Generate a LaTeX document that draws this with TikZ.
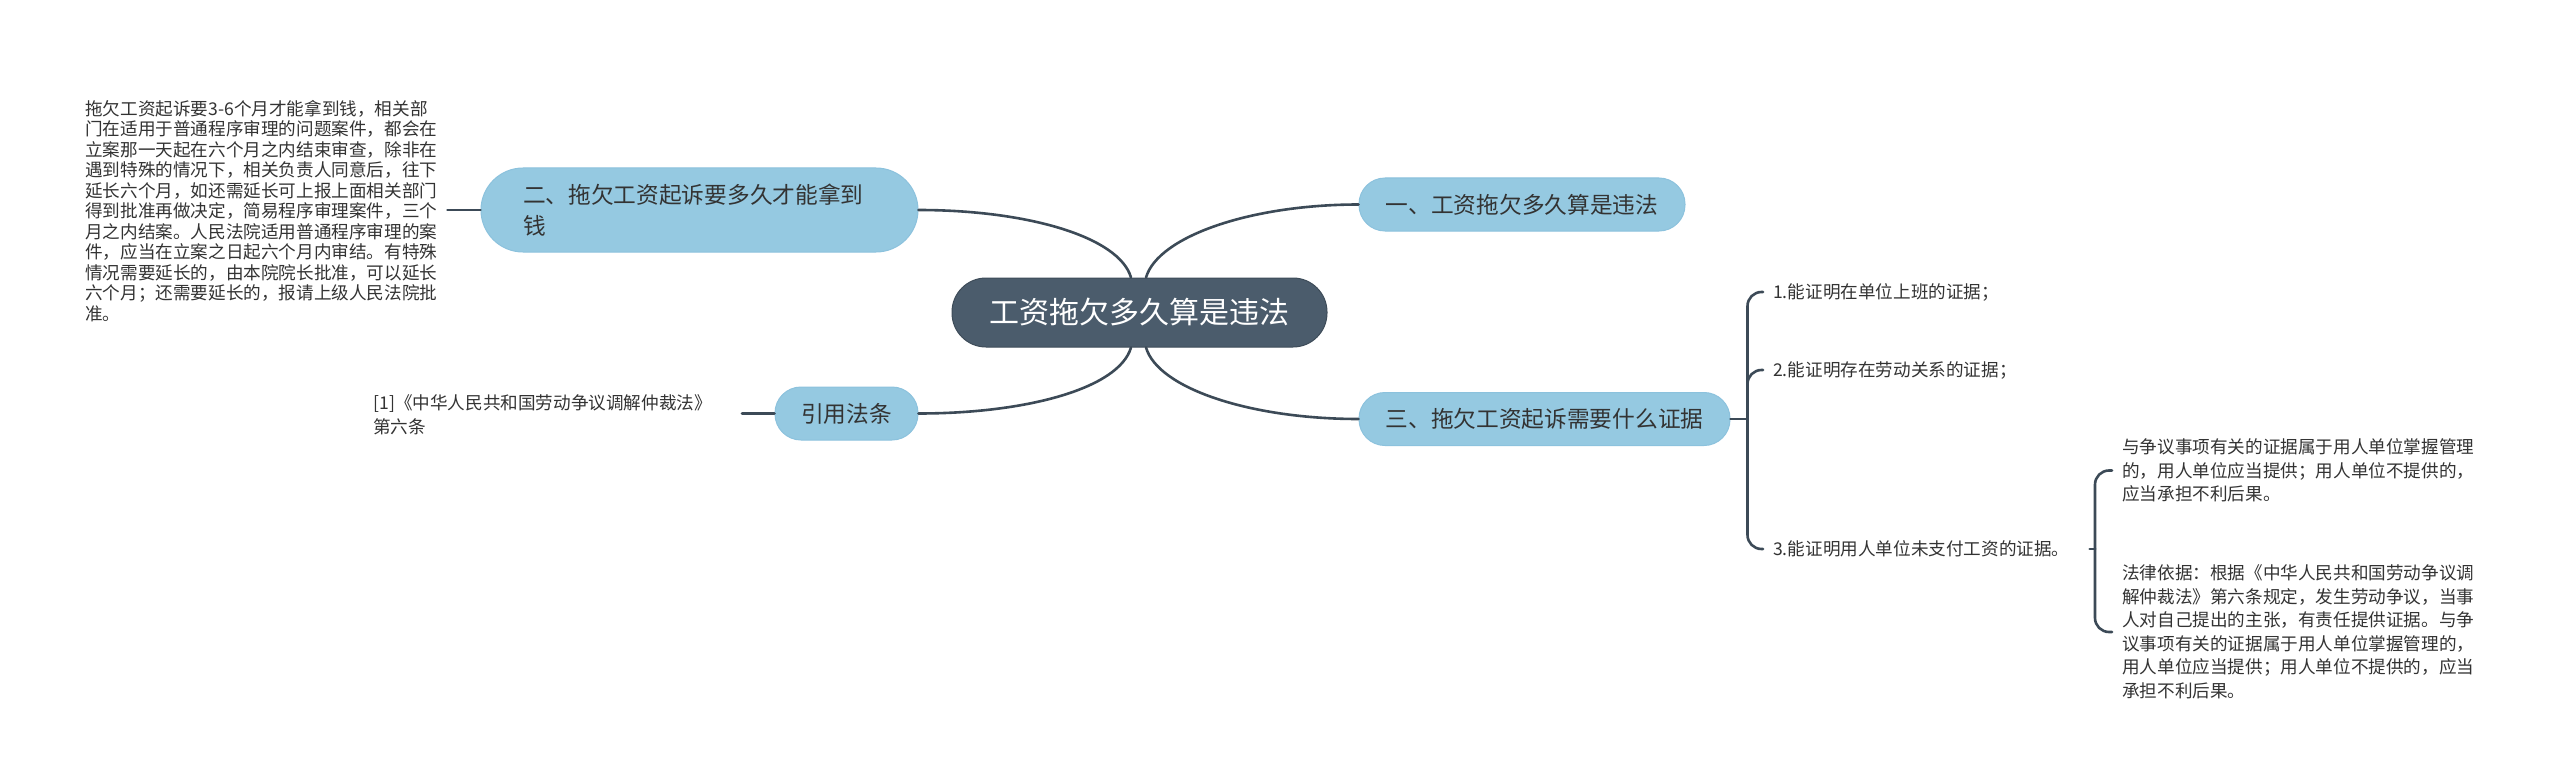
\documentclass[tikz,border=0pt]{standalone}
\usepackage{fontspec}
\setmainfont{Noto Sans CJK SC}
\definecolor{linec}{HTML}{3C4A57}
\definecolor{bluef}{HTML}{95C9E1}
\definecolor{blued}{HTML}{8CC2DD}
\definecolor{centf}{HTML}{4B5C6C}
\definecolor{centd}{HTML}{3E4C59}
\definecolor{txt}{HTML}{333333}
\begin{document}
\begin{tikzpicture}[x=1pt,y=-1pt,
  conn/.style={draw=linec, line width=2.6pt, line cap=round},
  branch/.style={fill=bluef, draw=blued, line width=1pt, rounded corners=26pt,
    minimum height=53pt, inner sep=0pt, text=txt, font=\fontsize{22.7}{31}\selectfont},
  central/.style={fill=centf, draw=centd, line width=1pt, rounded corners=34pt,
    minimum width=375pt, minimum height=69pt, inner sep=0pt, text=white,
    font=\fontsize{30}{36}\selectfont},
  leaf/.style={inner sep=0pt, text=txt, align=left, font=\fontsize{17.6}{23.5}\selectfont},
  leafl/.style={inner sep=0pt, text=txt, align=left, font=\fontsize{17.6}{20.5}\selectfont},
]
\useasboundingbox[fill=white] (0,0) rectangle (2560,781);

% central
\node[central] (c) at (1139.5,312.5) {工资拖欠多久算是违法};

% branches
\node[branch, minimum width=326pt] (n1) at (1522,204.5) {一、工资拖欠多久算是违法};
\node[branch, minimum width=371pt] (n3) at (1544.5,419) {三、拖欠工资起诉需要什么证据};
\node[branch, minimum width=143pt] (ref) at (846.5,413.5) {引用法条};
\node[branch, minimum width=437pt, minimum height=84pt, rounded corners=42pt,
      text width=353pt, align=left] (n2) at (699.5,210)
  {二、拖欠工资起诉要多久才能拿到\\钱};

% left text block
\node[leafl, anchor=west] (lt) at (85,211) {拖欠工资起诉要3-6个月才能拿到钱，相关部\\
门在适用于普通程序审理的问题案件，都会在\\
立案那一天起在六个月之内结束审查，除非在\\
遇到特殊的情况下，相关负责人同意后，往下\\
延长六个月，如还需延长可上报上面相关部门\\
得到批准再做决定，简易程序审理案件，三个\\
月之内结案。人民法院适用普通程序审理的案\\
件，应当在立案之日起六个月内审结。有特殊\\
情况需要延长的，由本院院长批准，可以延长\\
六个月；还需要延长的，报请上级人民法院批\\
准。};

% citation
\node[leaf, anchor=east] (cite) at (712,415) {[1]《中华人民共和国劳动争议调解仲裁法》\\第六条};

% items
\node[leaf, anchor=west] (i1) at (1773,292) {1.能证明在单位上班的证据；};
\node[leaf, anchor=west] (i2) at (1773,370) {2.能证明存在劳动关系的证据；};
\node[leaf, anchor=west] (i3) at (1773,549) {3.能证明用人单位未支付工资的证据。};

\node[leaf, anchor=west] (pa) at (2122,470.5) {与争议事项有关的证据属于用人单位掌握管理\\
的，用人单位应当提供；用人单位不提供的，\\
应当承担不利后果。};
\node[leaf, anchor=west] (pb) at (2122,632) {法律依据：根据《中华人民共和国劳动争议调\\
解仲裁法》第六条规定，发生劳动争议，当事\\
人对自己提出的主张，有责任提供证据。与争\\
议事项有关的证据属于用人单位掌握管理的，\\
用人单位应当提供；用人单位不提供的，应当\\
承担不利后果。};

% curves from central
\draw[conn] ([xshift=-8.5pt]c.north) .. controls +(-12,-41) and +(108,0) .. (n2.east);
\draw[conn] ([xshift=6.5pt]c.north) .. controls +(12,-41) and +(-108,0) .. (n1.west);
\draw[conn] ([xshift=-8.5pt]c.south) .. controls +(-12,41) and +(108,0) .. (ref.east);
\draw[conn] ([xshift=6.5pt]c.south) .. controls +(12,41) and +(-108,0) .. (n3.west);

% leaf connectors left
\draw[conn] (n2.west) -- ([xshift=10pt]n2.west -| lt.east);
\draw[conn] (ref.west) -- ([xshift=30pt]ref.west -| cite.east);

% bracket 1
\coordinate (b1) at ([xshift=17pt]n3.east);
\draw[conn] (n3.east) -- (b1);
\draw[conn, rounded corners=14pt] (b1) |- ([xshift=-10pt]i1.west);
\draw[conn, rounded corners=14pt] (b1) |- ([xshift=-10pt]i2.west);
\draw[conn, rounded corners=14pt] (b1) |- ([xshift=-10pt]i3.west);

% bracket 2
\coordinate (b2) at ([xshift=-27pt]pa.west |- i3.east);
\draw[conn] ([xshift=20pt]i3.east) -- (b2);
\draw[conn, rounded corners=14pt] (b2) |- ([xshift=-10pt]pa.west);
\draw[conn, rounded corners=14pt] (b2) |- ([xshift=-10pt]pb.west);
\end{tikzpicture}
\end{document}
